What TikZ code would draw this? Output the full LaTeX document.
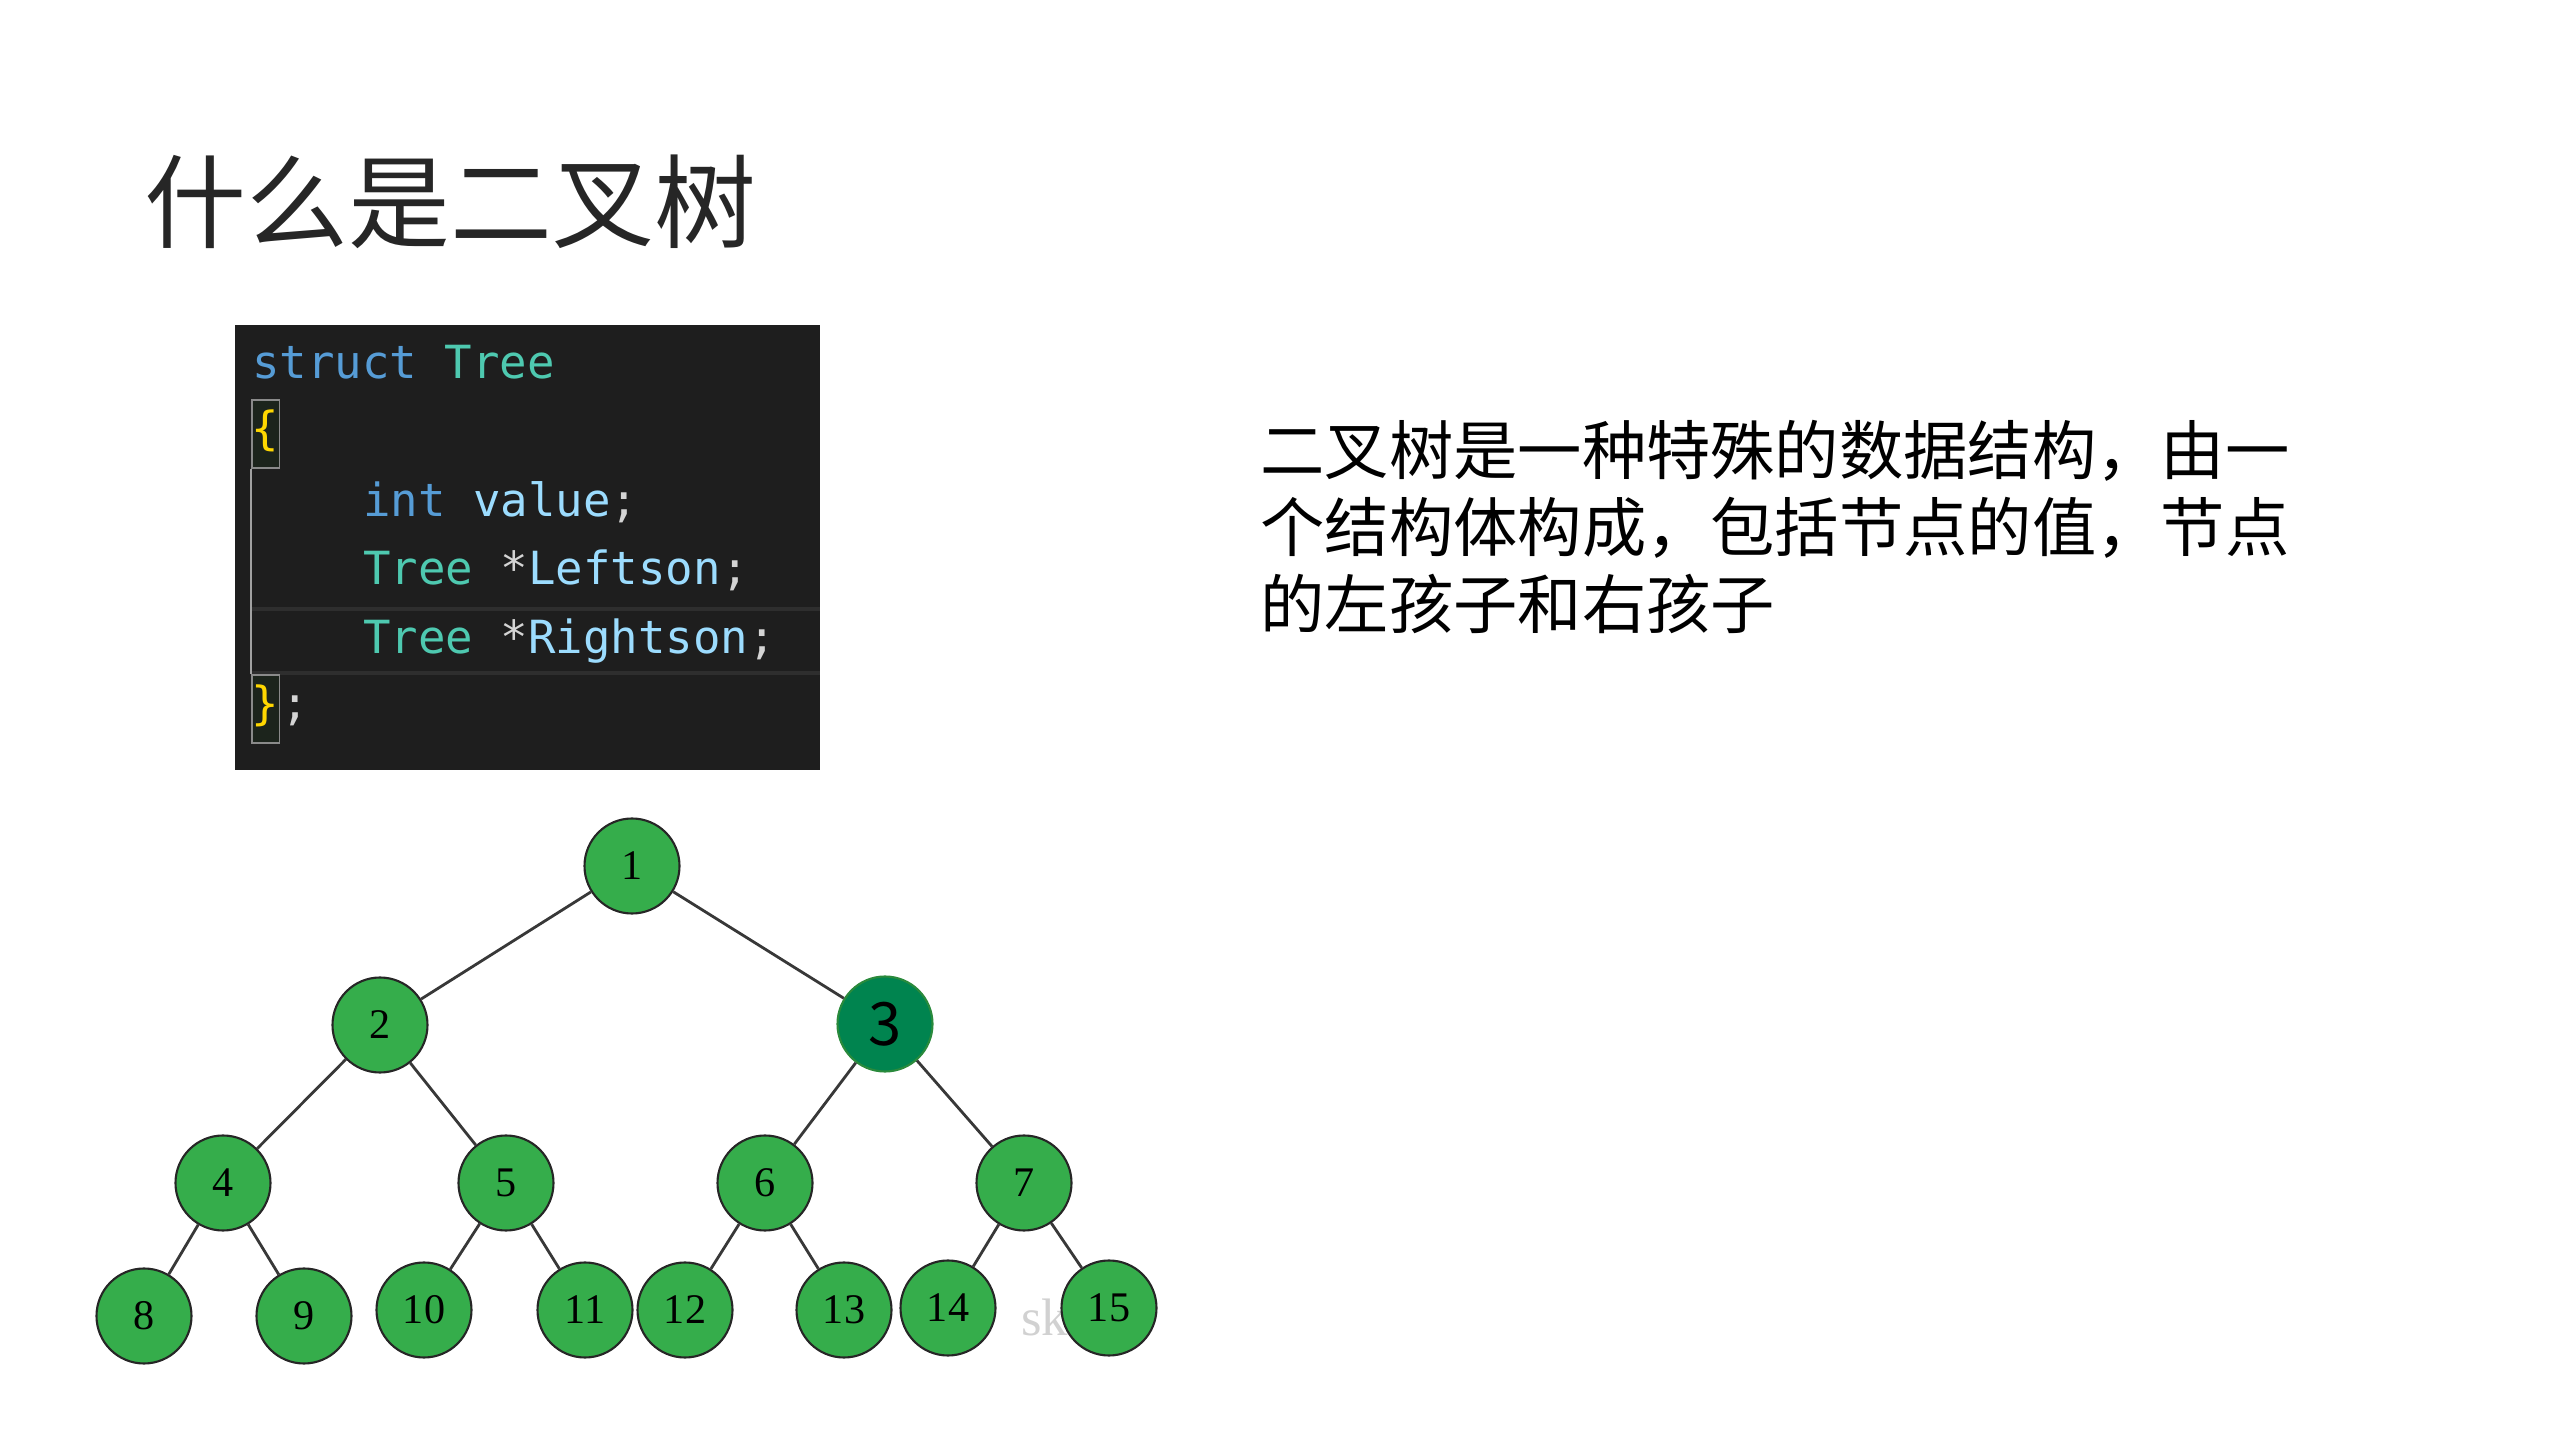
\documentclass[tikz,border=0pt]{standalone}
\usepackage{fontspec}
\setmainfont{Liberation Serif}
\setmonofont{DejaVu Sans Mono}
\newfontfamily\cjk{Noto Sans CJK SC}
\usepackage{tikz}

\definecolor{codebg}{HTML}{1E1E1E}
\definecolor{linebar}{HTML}{2E2E2E}
\definecolor{bracebg}{HTML}{1C241C}
\definecolor{boxgray}{HTML}{8A8A8A}
\definecolor{kwblue}{HTML}{569CD6}
\definecolor{typeteal}{HTML}{4EC9B0}
\definecolor{varblue}{HTML}{9CDCFE}
\definecolor{punctgray}{HTML}{D4D4D4}
\definecolor{bracegold}{HTML}{FFD700}
\definecolor{treegreen}{HTML}{35AD4B}
\definecolor{darkgreen}{HTML}{00844F}
\definecolor{titlegray}{HTML}{262626}

\begin{document}
\begin{tikzpicture}[line width=0.8pt,
  main node/.style={circle,fill=treegreen,draw=black!85,line width=0.6pt,minimum size=0.95cm,inner sep=0pt,font=\fontsize{12}{12}\selectfont},
  code line/.style={anchor=west,inner sep=0pt,font=\ttfamily\fontsize{13}{13}\selectfont,text height=0.3cm,text depth=0.08cm},
  brace box/.style={draw=boxgray,fill=bracebg,line width=0.5pt,minimum height=0.68cm}]

  \useasboundingbox (0,0) rectangle (25.6,14.4);

  % title and text on the right
  \node[anchor=west,inner sep=0pt,text=titlegray,font=\cjk\fontsize{29}{29}\selectfont] (title) at (1.43,12.38) {什么是二叉树};
  \node[anchor=west,inner sep=0pt,align=left,font=\cjk\fontsize{18.3}{21.9}\selectfont] (desc) at (12.59,9.13)
    {二叉树是一种特殊的数据结构，由一\\个结构体构成，包括节点的值，节点\\的左孩子和右孩子};

  % code box
  \fill[codebg] (2.35,6.70) rectangle (8.20,11.15);
  \draw[linebar,line width=1.2pt] (2.51,8.31) -- (8.20,8.31);
  \draw[linebar,line width=1.2pt] (2.51,7.67) -- (8.20,7.67);
  \node[code line] (l1) at (2.51,10.72) {\color{kwblue}struct \color{typeteal}Tree};
  \node[code line,brace box] (ob) at (2.51,10.06) {\color{bracegold}\{};
  \node[code line] (l3) at (3.62,9.34) {\color{kwblue}int \color{varblue}value\color{punctgray};};
  \node[code line] (l4) at (3.62,8.66) {\color{typeteal}Tree \color{punctgray}*\color{varblue}Leftson\color{punctgray};};
  \node[code line] (l5) at (3.62,7.97) {\color{typeteal}Tree \color{punctgray}*\color{varblue}Rightson\color{punctgray};};
  \node[code line,brace box] (cb) at (2.51,7.31) {\color{bracegold}\}};
  \node[code line,anchor=west] (semi) at (cb.east) {\color{punctgray};};
  \draw[boxgray!80,line width=0.6pt] (ob.south west) -- (cb.north west);

  % watermark, half under node 15
  \node[anchor=west,inner sep=0pt,text=black!18,font=\fontsize{15}{15}\selectfont] (mark) at (10.20,1.23) {sk};

  % the tree
  \node[main node]  (1) at (6.32,5.74) {1};
  \node[main node]  (2) at (3.80,4.15) {2};
  \node[main node,fill=darkgreen,draw=treegreen!80!black,font=\cjk\fontsize{17}{17}\selectfont]  (3) at (8.85,4.16) {3};
  \node[main node]  (4) at (2.23,2.57) {4};
  \node[main node]  (5) at (5.06,2.57) {5};
  \node[main node]  (6) at (7.65,2.57) {6};
  \node[main node]  (7) at (10.24,2.57) {7};
  \node[main node]  (8) at (1.44,1.24) {8};
  \node[main node]  (9) at (3.04,1.24) {9};
  \node[main node]  (10) at (4.24,1.30) {10};
  \node[main node]  (11) at (5.85,1.30) {11};
  \node[main node]  (12) at (6.85,1.30) {12};
  \node[main node]  (13) at (8.44,1.30) {13};
  \node[main node]  (14) at (9.48,1.32) {14};
  \node[main node]  (15) at (11.09,1.32) {15};

  \path[every edge/.style={draw=black!78,line width=0.8pt}]
    (1) edge (2)
    (1) edge (3)
    (2) edge (4)
    (2) edge (5)
    (3) edge (6)
    (3) edge (7)
    (4) edge (8)
    (4) edge (9)
    (5) edge (10)
    (5) edge (11)
    (6) edge (12)
    (6) edge (13)
    (7) edge (14)
    (7) edge (15);

\end{tikzpicture}
\end{document}
